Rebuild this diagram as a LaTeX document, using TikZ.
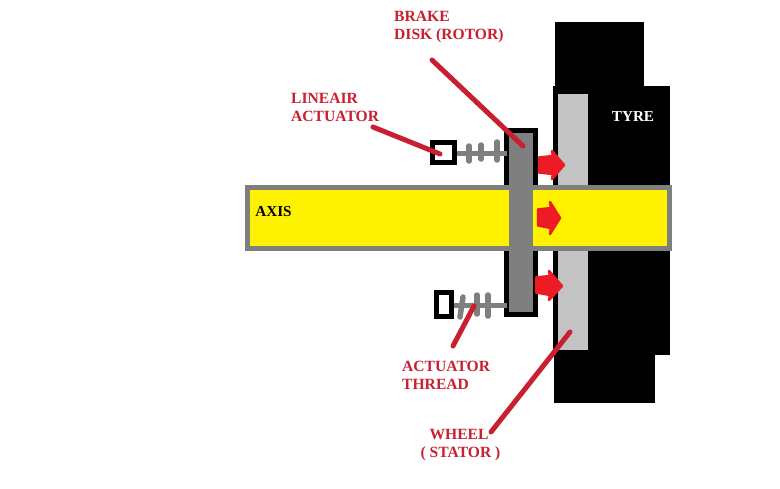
\documentclass[tikz,border=0pt]{standalone}
\usepackage{fontspec}
\setmainfont{Liberation Serif}
\definecolor{lab}{RGB}{200,32,48}
\definecolor{arr}{RGB}{237,28,36}
\definecolor{ax}{RGB}{255,242,0}
\definecolor{gr}{RGB}{127,127,127}
\definecolor{wh}{RGB}{195,195,195}
\tikzset{
  x=1pt,y=-1pt,
  redlabel/.style={text=lab,font=\fontsize{15.6}{18}\selectfont\bfseries,inner sep=0pt,anchor=north west,align=left},
  leader/.style={draw=lab,line width=5pt,line cap=round},
  blk/.style={fill=black,draw=none},
  pushtip/.style={fill=arr,draw=arr,line width=2.5pt,line join=round},
  stem/.style={draw=gr,line width=5pt},
  tick/.style={draw=gr,line width=5.5pt,line cap=round},
  actbox/.style={draw=black,line width=5pt,fill=white},
}
\begin{document}
\begin{tikzpicture}
\useasboundingbox (0,0) rectangle (780,488);
\fill[white] (0,0) rectangle (780,488);
% tyre
\fill[blk] (555,22) rectangle (644,90);
\fill[blk] (553,86) rectangle (670,355);
\fill[blk] (554,350) rectangle (655,403);
% wheel
\fill[wh] (558,94) rectangle (588,350);
% disk outer
\fill[blk] (504,128) rectangle (538,317);
% axis
\draw[draw=gr,line width=5pt,fill=ax] (247.5,187.5) rectangle (669.5,248.5);
% disk inner
\fill[gr] (509,133) rectangle (533,312);
% actuators
\draw[actbox] (432.5,142.5) rectangle (454.5,162.5);
\draw[actbox] (436.5,292.5) rectangle (451.5,316.5);
\coordinate (s1) at (457,153); \coordinate (s2) at (507,153);
\draw[stem] (s1) -- (s2);
\draw[tick] (469,146) -- (469,161);
\draw[tick] (481,145) -- (481,159);
\draw[tick] (497,142) -- (497,160);
\coordinate (s3) at (454,305); \coordinate (s4) at (507,305);
\draw[stem] (s3) -- (s4);
\draw[tick] (463,297) -- (460,317);
\draw[tick] (477,295) -- (477,314);
\draw[tick] (488,295) -- (488,316);
% arrows
\draw[pushtip] (539,157.5) -- (553,156) -- (552,151) -- (564,165) -- (552,179) -- (553,174) -- (539,172.5) -- cycle;
\draw[pushtip] (538,209.5) -- (551,208) -- (550,202) -- (560,218) -- (550,234) -- (551,228) -- (538,225.5) -- cycle;
\draw[pushtip] (536,277.5) -- (550,276) -- (549,271) -- (562,286) -- (549,300) -- (550,295) -- (536,292.5) -- cycle;
% labels
\node[redlabel] (brake) at (394,10.5) {BRAKE\\DISK (ROTOR)};
\node[redlabel] (lin) at (291,92.5) {LINEAIR\\ACTUATOR};
\node[redlabel] (thr) at (402,360.5) {ACTUATOR\\THREAD};
\node[redlabel,align=center,anchor=north] (whl) at (460.5,429.5) {\kern-3pt WHEEL\\( STATOR )};
\node[font=\fontsize{15.2}{18}\selectfont\bfseries,text=black,inner sep=0pt] (axl) at (273.5,212) {AXIS};
\node[font=\fontsize{15.2}{18}\selectfont\bfseries,text=white,inner sep=0pt] (tyl) at (633,117) {TYRE};
% leaders
\coordinate (b0) at (432,60); \coordinate (b1) at (523,146);
\coordinate (l0) at (373,127); \coordinate (l1) at (440,154);
\coordinate (t0) at (453,346); \coordinate (t1) at (474,306);
\coordinate (w0) at (491,432); \coordinate (w1) at (570,332);
\draw[leader] (b0) -- (b1);
\draw[leader] (l0) -- (l1);
\draw[leader] (t0) -- (t1);
\draw[leader] (w0) -- (w1);
\end{tikzpicture}
\end{document}
